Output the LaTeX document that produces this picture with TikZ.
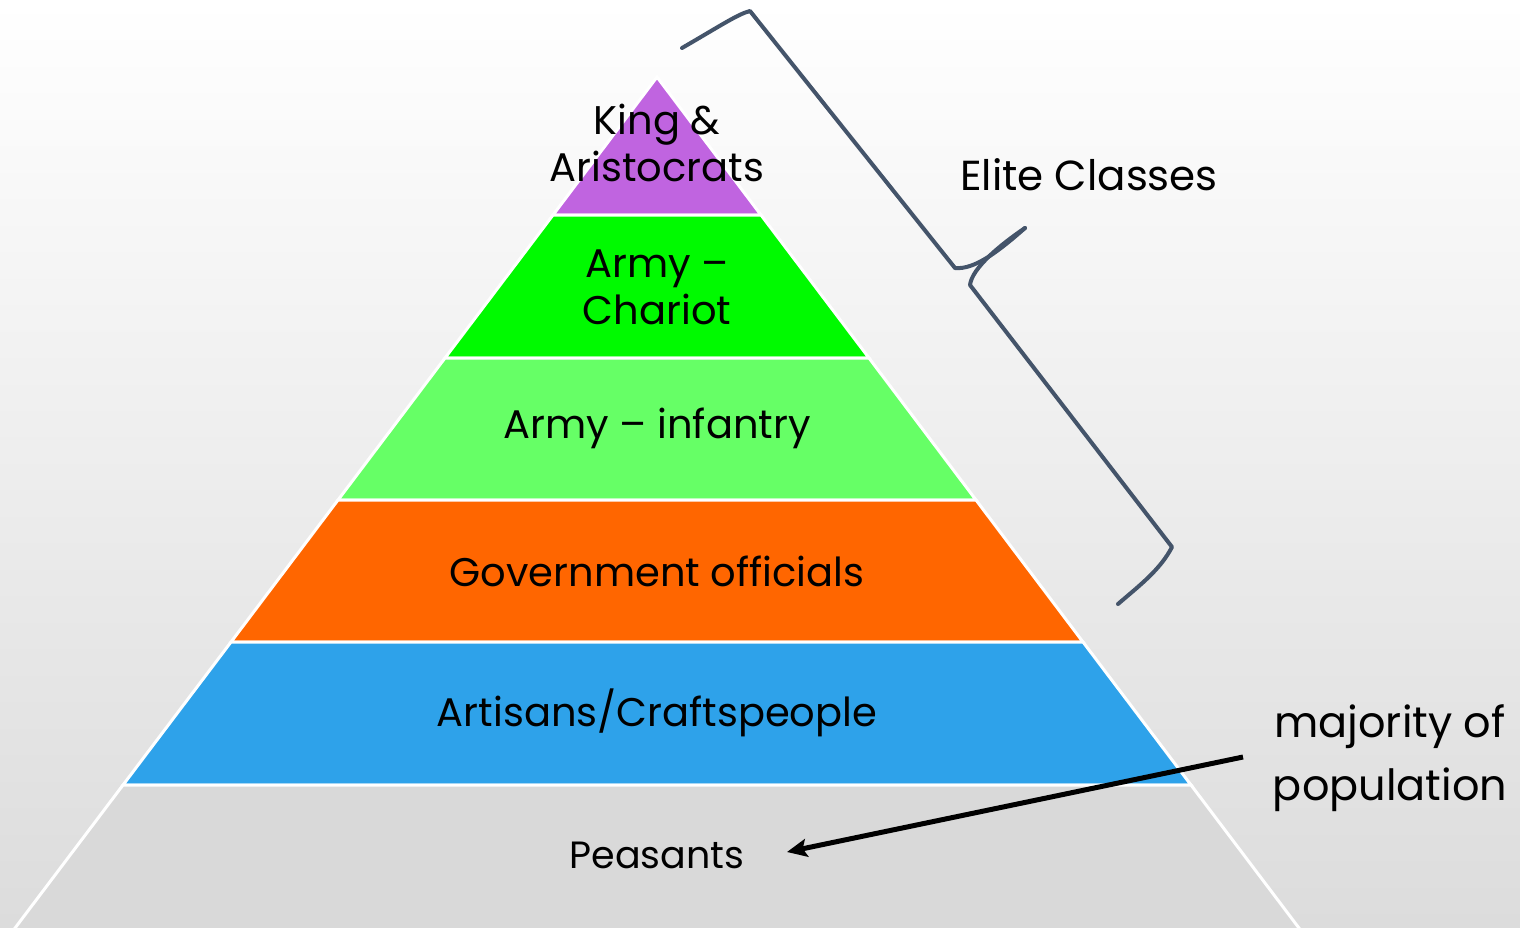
\documentclass[tikz,border=0pt]{standalone}
\usepackage{fontspec}
\setmainfont{Poppins}
\usetikzlibrary{arrows.meta}
\definecolor{bgbot}{HTML}{DCDCDC}
\definecolor{cPurple}{HTML}{C064E0}
\definecolor{cGreen}{HTML}{00FA00}
\definecolor{cLight}{HTML}{66FF66}
\definecolor{cOrange}{HTML}{FF6600}
\definecolor{cBlue}{HTML}{2EA2EA}
\definecolor{cGray}{HTML}{D9D9D9}
\definecolor{cBrace}{HTML}{44546A}
\begin{document}
\begin{tikzpicture}[x=0.5pt,y=-0.5pt,
  lbl/.style={font=\fontsize{20}{23.5}\selectfont, align=center, inner sep=0pt, text=black},
  small/.style={font=\fontsize{19}{22}\selectfont, align=center, inner sep=0pt, text=black},
  side/.style={font=\fontsize{21.5}{31.5}\selectfont, align=center, inner sep=0pt, text=black},
  layer/.style={draw=white, line width=1.5pt, line join=miter},
  bracepath/.style={draw=cBrace, line width=2pt, line cap=round, line join=round},
  pointer/.style={draw=black, line width=2.5pt, -{Stealth[length=10pt,width=9pt,inset=2pt]}}]
\useasboundingbox (0,0) rectangle (1520,927);
\shade[top color=white, bottom color=bgbot] (0,0) rectangle (1520,927);
% layers
\path[layer, fill=cPurple] (657,77) -- (761,215) -- (553,215) -- cycle;
\path[layer, fill=cGreen] (553,215) -- (761,215) -- (869,358) -- (445,358) -- cycle;
\path[layer, fill=cLight] (445,358) -- (869,358) -- (976,500) -- (338,500) -- cycle;
\path[layer, fill=cOrange] (338,500) -- (976,500) -- (1083,642) -- (231,642) -- cycle;
\path[layer, fill=cBlue] (231,642) -- (1083,642) -- (1191,785) -- (123,785) -- cycle;
\path[layer, fill=cGray] (123,785) -- (1191,785) -- (1308,940) -- (6,940) -- cycle;
% labels
\node[lbl] (king) at (657,143) {King \&\\Aristocrats};
\node[lbl] (chariot) at (657,287) {Army –\\Chariot};
\node[lbl] (infantry) at (657,428) {Army – infantry};
\node[lbl] (gov) at (657,571) {Government officials};
\node[lbl] (art) at (657,713) {Artisans/Craftspeople};
\node[small] (peas) at (657,855) {Peasants};
\node[font=\fontsize{21}{24}\selectfont, inner sep=0pt] (elite) at (1089,175) {Elite Classes};
\node[side] (maj) at (1390,758) {majority of\\population};
% brace
\path[bracepath] (682,48) .. controls (720,26) and (738,14) .. (750,11) -- (955,268)
   .. controls (975,270) and (1000,250) .. (1025,228);
\path[bracepath] (1025,228) .. controls (1000,245) and (972,268) .. (970,285) -- (1172,547)
   .. controls (1160,570) and (1140,585) .. (1118,604);
% arrow
\coordinate (arrS) at (1243,757);
\coordinate (arrE) at (787,852);
\draw[pointer] (arrS) -- (arrE);
\end{tikzpicture}
\end{document}
